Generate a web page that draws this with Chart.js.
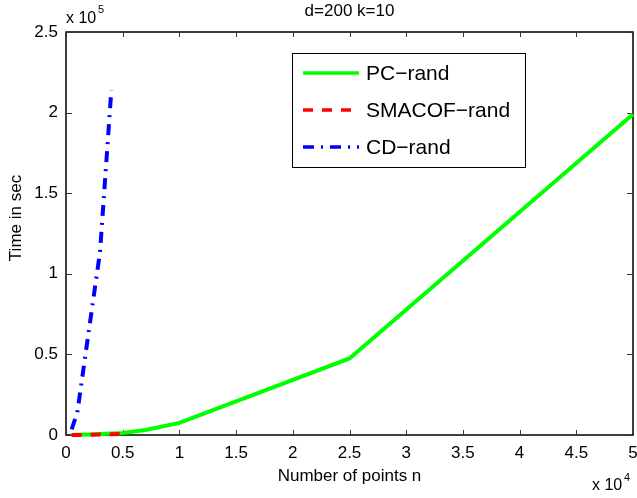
<!DOCTYPE html>
<html lang="en">
<head>
    <meta charset="UTF-8">
    <title>d=200 k=10</title>
    <script src="https://cdn.jsdelivr.net/npm/chart.js@4.4.0/dist/chart.umd.min.js"></script>
    <style>
        body {
            margin: 0;
            background: #ffffff;
        }
        #chart {
            display: block;
        }
    </style>
</head>
<body>
    <canvas id="chart" width="637" height="498"></canvas>

    <script>
        // Data (x = number of points, y = time in sec)
        const seriesNames = ['PC\u2212rand', 'SMACOF\u2212rand', 'CD\u2212rand'];

        const nPC = [500, 1000, 2000, 3000, 4000, 5000, 7000, 10000, 25000, 50000];
        const timePC = [60, 150, 350, 600, 900, 1300, 3100, 7500, 47500, 199000];

        const nSMACOF = [500, 1000, 2000, 3000, 4000, 5000];
        const timeSMACOF = [10, 40, 120, 250, 400, 600];

        const nCD = [500, 1000, 2000, 3000, 4000];
        const timeCD = [3500, 14000, 64000, 113500, 214000];

        const xTicks = [0, 5000, 10000, 15000, 20000, 25000, 30000, 35000, 40000, 45000, 50000];
        const yTicks = [0, 50000, 100000, 150000, 200000, 250000];

        const FONT = '"Liberation Sans", Arial, Helvetica, sans-serif';

        function toPoints(xs, ys) {
            return xs.map((x, i) => ({ x: x, y: ys[i] }));
        }

        // box, inward tick marks on all four sides, exponent labels and titles
        const matlabAxes = {
            id: 'matlabAxes',
            beforeDatasetsDraw(chart) {
                const ctx = chart.ctx;
                const a = chart.chartArea;
                const xs = chart.scales.x;
                const ys = chart.scales.y;
                ctx.save();
                ctx.strokeStyle = '#000';
                ctx.lineWidth = 1.5;
                ctx.strokeRect(a.left, a.top, a.right - a.left, a.bottom - a.top);
                ctx.lineWidth = 1;
                ctx.strokeStyle = '#333';
                ctx.beginPath();
                xTicks.forEach(v => {
                    const px = Math.round(xs.getPixelForValue(v)) + 0.5;
                    ctx.moveTo(px, a.bottom);
                    ctx.lineTo(px, a.bottom - 5);
                    ctx.moveTo(px, a.top);
                    ctx.lineTo(px, a.top + 5);
                });
                yTicks.forEach(v => {
                    const py = Math.round(ys.getPixelForValue(v)) + 0.5;
                    ctx.moveTo(a.left, py);
                    ctx.lineTo(a.left + 6, py);
                    ctx.moveTo(a.right, py);
                    ctx.lineTo(a.right - 6, py);
                });
                ctx.stroke();
                ctx.restore();
            },
            afterDraw(chart) {
                const ctx = chart.ctx;
                const a = chart.chartArea;
                ctx.save();
                ctx.fillStyle = '#000';

                // title
                ctx.font = '17px ' + FONT;
                ctx.textAlign = 'center';
                ctx.textBaseline = 'middle';
                ctx.fillText('d=200 k=10', (a.left + a.right) / 2, 11);

                // axis titles
                ctx.font = '17px ' + FONT;
                ctx.fillText('Number of points n', (a.left + a.right) / 2, 476);
                ctx.save();
                ctx.translate(16, 218);
                ctx.rotate(-Math.PI / 2);
                ctx.fillText('Time in sec', 0, 0);
                ctx.restore();

                // exponent labels
                ctx.textAlign = 'left';
                ctx.textBaseline = 'alphabetic';
                ctx.font = '16px ' + FONT;
                ctx.fillText('x 10', 66, 23);
                ctx.fillText('x 10', 592, 490);
                ctx.font = '11px ' + FONT;
                ctx.fillText('5', 98, 13);
                ctx.fillText('4', 624, 481);
                ctx.restore();
            }
        };

        // legend box inside the axes, top right
        const insideLegend = {
            id: 'insideLegend',
            afterDraw(chart) {
                const ctx = chart.ctx;
                const box = { left: 292, top: 53, width: 233, height: 114 };
                ctx.save();
                ctx.fillStyle = '#fff';
                ctx.fillRect(box.left, box.top, box.width, box.height);
                ctx.strokeStyle = '#000';
                ctx.lineWidth = 1;
                ctx.strokeRect(box.left + 0.5, box.top + 0.5, box.width, box.height);

                chart.data.datasets.forEach((ds, i) => {
                    const y = 73 + i * 37;
                    ctx.beginPath();
                    ctx.strokeStyle = ds.borderColor;
                    ctx.lineWidth = 3.5;
                    ctx.setLineDash(ds.borderDash || []);
                    ctx.moveTo(303, y);
                    ctx.lineTo(359, y);
                    ctx.stroke();
                    ctx.setLineDash([]);
                    ctx.fillStyle = '#000';
                    ctx.font = '21px ' + FONT;
                    ctx.textAlign = 'left';
                    ctx.textBaseline = 'middle';
                    ctx.fillText(ds.label, 366, y + 1);
                });
                ctx.restore();
            }
        };

        new Chart(document.getElementById('chart'), {
            type: 'line',
            data: {
                datasets: [
                    {
                        label: seriesNames[0],
                        data: toPoints(nPC, timePC),
                        borderColor: '#00ff00',
                        borderWidth: 4,
                        order: 3
                    },
                    {
                        label: seriesNames[1],
                        data: toPoints(nSMACOF, timeSMACOF),
                        borderColor: '#ff0000',
                        borderWidth: 4,
                        borderDash: [10, 9],
                        order: 2
                    },
                    {
                        label: seriesNames[2],
                        data: toPoints(nCD, timeCD),
                        borderColor: '#0000ff',
                        borderWidth: 4,
                        borderDash: [11, 7, 2, 7],
                        order: 1
                    }
                ]
            },
            options: {
                responsive: false,
                animation: false,
                devicePixelRatio: 1,
                layout: {
                    padding: { top: 32, right: 4, left: 0, bottom: 0 }
                },
                elements: {
                    point: { radius: 0, hoverRadius: 0 },
                    line: { tension: 0, fill: false, borderCapStyle: 'butt' }
                },
                datasets: {
                    line: { clip: false }
                },
                plugins: {
                    legend: { display: false },
                    tooltip: { enabled: false },
                    title: { display: false }
                },
                scales: {
                    x: {
                        type: 'linear',
                        min: 0,
                        max: 50000,
                        afterBuildTicks: scale => {
                            scale.ticks = xTicks.map(v => ({ value: v }));
                        },
                        afterFit: scale => {
                            scale.height = 63;
                            scale.paddingLeft = 0;
                            scale.paddingRight = 0;
                        },
                        grid: { display: false },
                        border: { display: false },
                        ticks: {
                            autoSkip: false,
                            maxRotation: 0,
                            padding: 0,
                            color: '#000',
                            font: { family: FONT, size: 17 },
                            callback: v => String(v / 1e4)
                        }
                    },
                    y: {
                        min: 0,
                        max: 250000,
                        afterBuildTicks: scale => {
                            scale.ticks = yTicks.map(v => ({ value: v }));
                        },
                        afterFit: scale => {
                            scale.width = 66;
                        },
                        grid: { display: false },
                        border: { display: false },
                        ticks: {
                            autoSkip: false,
                            padding: 0,
                            color: '#000',
                            font: { family: FONT, size: 17 },
                            callback: v => String(v / 1e5)
                        }
                    }
                }
            },
            plugins: [matlabAxes, insideLegend]
        });
    </script>
</body>
</html>
